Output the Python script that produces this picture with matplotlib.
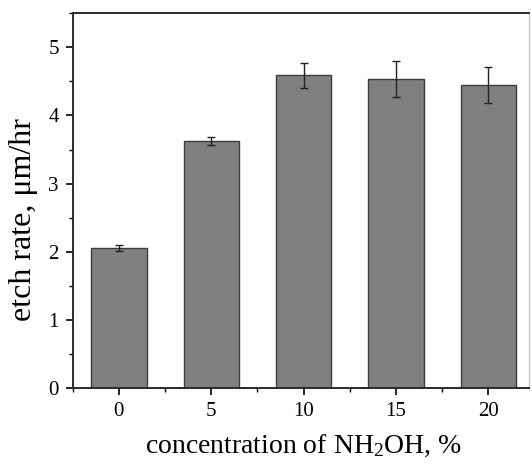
import numpy as np
import matplotlib.pyplot as plt
import matplotlib.ticker as mticker
from matplotlib import rcParams

# NH2OH concentration (%) vs etch rate (um/hr)
conc = [0, 5, 10, 15, 20]
rate = [2.05, 3.63, 4.59, 4.53, 4.45]
err = [0.045, 0.06, 0.185, 0.265, 0.265]

rcParams['font.family'] = 'Liberation Serif'
rcParams['mathtext.fontset'] = 'custom'
rcParams['mathtext.rm'] = 'Liberation Serif'
rcParams['mathtext.it'] = 'Liberation Serif:italic'

fig = plt.figure(figsize=(5.32, 4.65), dpi=100)
ax = fig.add_axes([72.7/532, 77/465, (529-72.7)/532, (388-13.3)/465])

ax.bar(conc, rate, width=3, color='#808080', edgecolor='#3c3c3c', linewidth=1.0,
       yerr=err, error_kw=dict(ecolor='#222222', elinewidth=1.0, capsize=3, capthick=1.0))

ax.set_xlim(-2.5, 22.2)
ax.set_ylim(0, 5.5)
ax.xaxis.set_major_locator(mticker.MultipleLocator(5))
ax.xaxis.set_minor_locator(mticker.MultipleLocator(2.5))
ax.yaxis.set_major_locator(mticker.MultipleLocator(1))
ax.yaxis.set_minor_locator(mticker.MultipleLocator(0.5))
ax.tick_params(axis='both', which='major', direction='out', length=5, width=1.2, labelsize=15, pad=5)
ax.tick_params(axis='both', which='minor', direction='out', length=3, width=1.0)
ax.tick_params(top=False, right=False, which='both')

for s in ['left', 'bottom', 'top']:
    ax.spines[s].set_linewidth(1.4)
    ax.spines[s].set_color('#2a2a2a')
ax.spines['right'].set_color('#c8c8c8')
ax.spines['right'].set_linewidth(1.0)

fig.text(24/532, 1-220/465, 'etch rate, \u03bcm/hr', rotation=90, ha='center', va='center', fontsize=23)
fig.text(303/532, 1-446/465, 'concentration of NH$_\\mathrm{2}$OH, %', ha='center', va='center', fontsize=20)

plt.savefig('out.png', dpi=100)
plt.close()
